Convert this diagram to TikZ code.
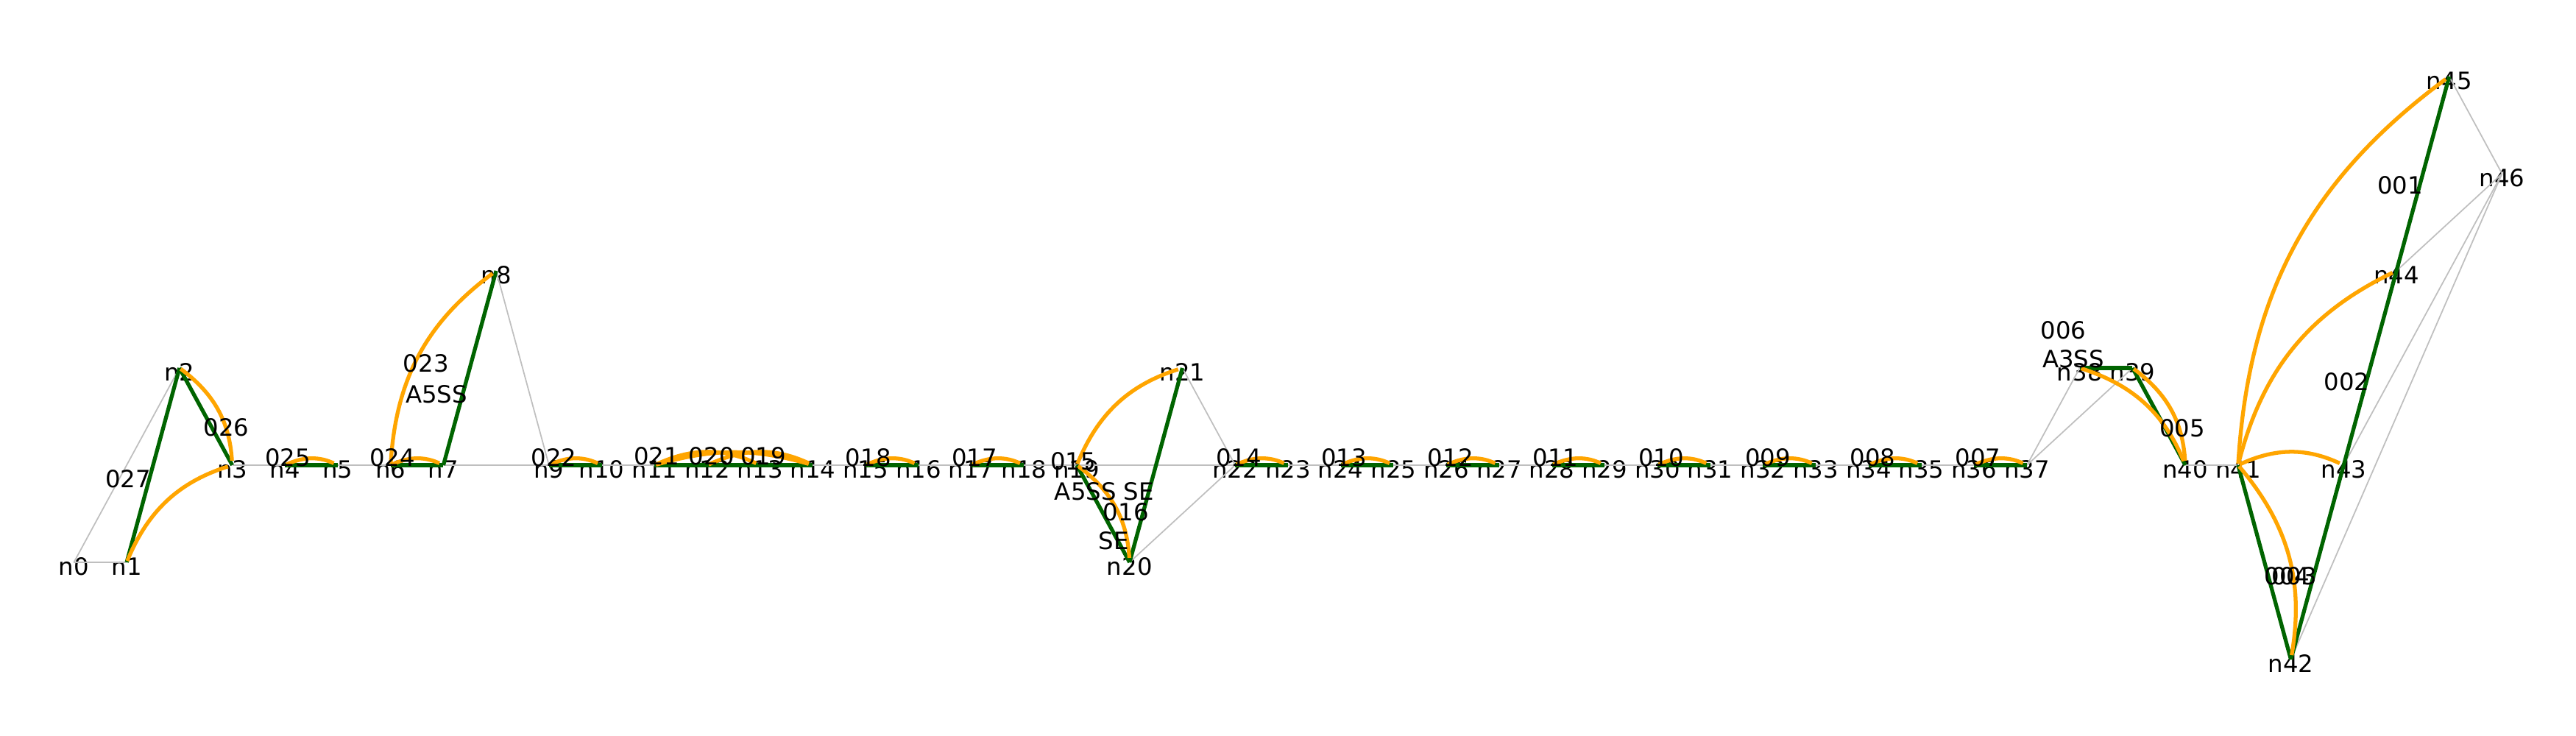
\documentclass[tikz,border=0pt]{standalone}
\usepackage{fontspec}
\setmainfont{DejaVu Sans}
\definecolor{linkgray}{HTML}{BFBFBF}
\definecolor{exongreen}{HTML}{006400}
\definecolor{junctionorange}{HTML}{FFA500}
\tikzset {
    x=0.7172cm,
    y=1.32cm,
    vtx/.style={inner sep=0pt, font=\fontsize{9.2}{11}\selectfont, text height=0.356cm, text depth=0pt},
    elbl/.style={inner sep=0pt, font=\fontsize{9.2}{11}\selectfont},
    link/.style={draw=linkgray, line width=0.5pt},
    exon/.style={draw=exongreen, line width=1.5pt},
    junction/.style={draw=junctionorange, line width=1.5pt, bend left=25, shorten >=0.06cm, shorten <=0.02cm}
}

\begin{document}
\begin{tikzpicture}
    \useasboundingbox (-1.004cm,-3.68cm) rectangle (33.996cm,6.32cm);

    \node[vtx] (n0) at (0,-1) {n0};
    \node[vtx] (n1) at (1,-1) {n1};
    \node[vtx] (n2) at (2,1) {n2};
    \node[vtx] (n3) at (3,0) {n3};
    \node[vtx] (n4) at (4,0) {n4};
    \node[vtx] (n5) at (5,0) {n5};
    \node[vtx] (n6) at (6,0) {n6};
    \node[vtx] (n7) at (7,0) {n7};
    \node[vtx] (n8) at (8,2) {n8};
    \node[vtx] (n9) at (9,0) {n9};
    \node[vtx] (n10) at (10,0) {n10};
    \node[vtx] (n11) at (11,0) {n11};
    \node[vtx] (n12) at (12,0) {n12};
    \node[vtx] (n13) at (13,0) {n13};
    \node[vtx] (n14) at (14,0) {n14};
    \node[vtx] (n15) at (15,0) {n15};
    \node[vtx] (n16) at (16,0) {n16};
    \node[vtx] (n17) at (17,0) {n17};
    \node[vtx] (n18) at (18,0) {n18};
    \node[vtx] (n19) at (19,0) {n19};
    \node[vtx] (n20) at (20,-1) {n20};
    \node[vtx] (n21) at (21,1) {n21};
    \node[vtx] (n22) at (22,0) {n22};
    \node[vtx] (n23) at (23,0) {n23};
    \node[vtx] (n24) at (24,0) {n24};
    \node[vtx] (n25) at (25,0) {n25};
    \node[vtx] (n26) at (26,0) {n26};
    \node[vtx] (n27) at (27,0) {n27};
    \node[vtx] (n28) at (28,0) {n28};
    \node[vtx] (n29) at (29,0) {n29};
    \node[vtx] (n30) at (30,0) {n30};
    \node[vtx] (n31) at (31,0) {n31};
    \node[vtx] (n32) at (32,0) {n32};
    \node[vtx] (n33) at (33,0) {n33};
    \node[vtx] (n34) at (34,0) {n34};
    \node[vtx] (n35) at (35,0) {n35};
    \node[vtx] (n36) at (36,0) {n36};
    \node[vtx] (n37) at (37,0) {n37};
    \node[vtx] (n38) at (38,1) {n38};
    \node[vtx] (n39) at (39,1) {n39};
    \node[vtx] (n40) at (40,0) {n40};
    \node[vtx] (n41) at (41,0) {n41};
    \node[vtx] (n42) at (42,-2) {n42};
    \node[vtx] (n43) at (43,0) {n43};
    \node[vtx] (n44) at (44,2) {n44};
    \node[vtx] (n45) at (45,4) {n45};
    \node[vtx] (n46) at (46,3) {n46};

    % thin links
    \path
    (n0.center) edge[link] (n1.center)
    (n0.center) edge[link] (n2.center)
    (n3.center) edge[link] (n37.center)
    (n40.center) edge[link] (n41.center)
    (n8.center) edge[link] (n9.center)
    (n21.center) edge[link] (n22.center)
    (n20.center) edge[link] (n22.center)
    (n37.center) edge[link] (n38.center)
    (n37.center) edge[link] (n39.center)
    (n45.center) edge[link] (n46.center)
    (n46.center) edge[link] (n44.center)
    (n46.center) edge[link] (n43.center)
    (n46.center) edge[link] (n42.center);

    % exons
    \path
    (n1.center) edge[exon] (n2.center)
    (n2.center) edge[exon] (n3.center)
    (n4.center) edge[exon] (n5.center)
    (n6.center) edge[exon] (n7.center)
    (n7.center) edge[exon] (n8.center)
    (n9.center) edge[exon] (n10.center)
    (n11.center) edge[exon] (n14.center)
    (n15.center) edge[exon] (n16.center)
    (n17.center) edge[exon] (n18.center)
    (n19.center) edge[exon] (n20.center)
    (n20.center) edge[exon] (n21.center)
    (n22.center) edge[exon] (n23.center)
    (n24.center) edge[exon] (n25.center)
    (n26.center) edge[exon] (n27.center)
    (n28.center) edge[exon] (n29.center)
    (n30.center) edge[exon] (n31.center)
    (n32.center) edge[exon] (n33.center)
    (n34.center) edge[exon] (n35.center)
    (n36.center) edge[exon] (n37.center)
    (n38.center) edge[exon] (n39.center)
    (n39.center) edge[exon] (n40.center)
    (n41.center) edge[exon] (n42.center)
    (n42.center) edge[exon] (n45.center);

    % junctions
    \path
    (n1.center) edge[junction] (n3.center)
    (n2.center) edge[junction] (n3.center)
    (n4.center) edge[junction] (n5.center)
    (n6.center) edge[junction] (n7.center)
    (n6.center) edge[junction] (n8.center)
    (n9.center) edge[junction] (n10.center)
    (n11.center) edge[junction, bend left=16] (n14.center)
    (n11.center) edge[junction] (n13.center)
    (n12.center) edge[junction] (n14.center)
    (n15.center) edge[junction] (n16.center)
    (n17.center) edge[junction] (n18.center)
    (n19.center) edge[junction] (n21.center)
    (n19.center) edge[junction] (n20.center)
    (n22.center) edge[junction] (n23.center)
    (n24.center) edge[junction] (n25.center)
    (n26.center) edge[junction] (n27.center)
    (n28.center) edge[junction] (n29.center)
    (n30.center) edge[junction] (n31.center)
    (n32.center) edge[junction] (n33.center)
    (n34.center) edge[junction] (n35.center)
    (n36.center) edge[junction] (n37.center)
    (n38.center) edge[junction] (n40.center)
    (n39.center) edge[junction] (n40.center)
    (n41.center) edge[junction] (n42.center)
    (n41.center) edge[junction] (n43.center)
    (n41.center) edge[junction] (n44.center)
    (n41.center) edge[junction] (n45.center);

    % edge labels
    \node[elbl] (l027) at (1.03,-0.14) {027};
    \node[elbl] (l026) at (2.89,0.39) {026};
    \node[elbl] (l025) at (4.05,0.08) {025};
    \node[elbl] (l024) at (6.03,0.08) {024};
    \node[elbl] (l023) at (6.67,1.05) {023};
    \node[elbl] (a5ss) at (6.87,0.73) {A5SS};
    \node[elbl] (l022) at (9.09,0.08) {022};
    \node[elbl] (l021) at (11.04,0.09) {021};
    \node[elbl] (l020) at (12.08,0.09) {020};
    \node[elbl] (l019) at (13.06,0.09) {019};
    \node[elbl] (l018) at (15.05,0.08) {018};
    \node[elbl] (l017) at (17.06,0.08) {017};
    \node[elbl] (l015) at (18.93,0.04) {015};
    \node[elbl] (a5se) at (19.52,-0.27) {A5SS SE};
    \node[elbl] (l016) at (19.93,-0.48) {016};
    \node[elbl] (se) at (19.70,-0.78) {SE};
    \node[elbl] (l014) at (22.07,0.08) {014};
    \node[elbl] (l013) at (24.06,0.08) {013};
    \node[elbl] (l012) at (26.08,0.08) {012};
    \node[elbl] (l011) at (28.07,0.08) {011};
    \node[elbl] (l010) at (30.07,0.08) {010};
    \node[elbl] (l009) at (32.09,0.08) {009};
    \node[elbl] (l008) at (34.08,0.08) {008};
    \node[elbl] (l007) at (36.07,0.08) {007};
    \node[elbl] (l006) at (37.69,1.39) {006};
    \node[elbl] (a3ss) at (37.88,1.09) {A3SS};
    \node[elbl] (l005) at (39.94,0.38) {005};
    \node[elbl] (l004) at (41.93,-1.14) {004};
    \node[elbl] (l003) at (42.06,-1.14) {003};
    \node[elbl] (l002) at (43.06,0.86) {002};
    \node[elbl] (l001) at (44.07,2.88) {001};
\end{tikzpicture}
\end{document}
